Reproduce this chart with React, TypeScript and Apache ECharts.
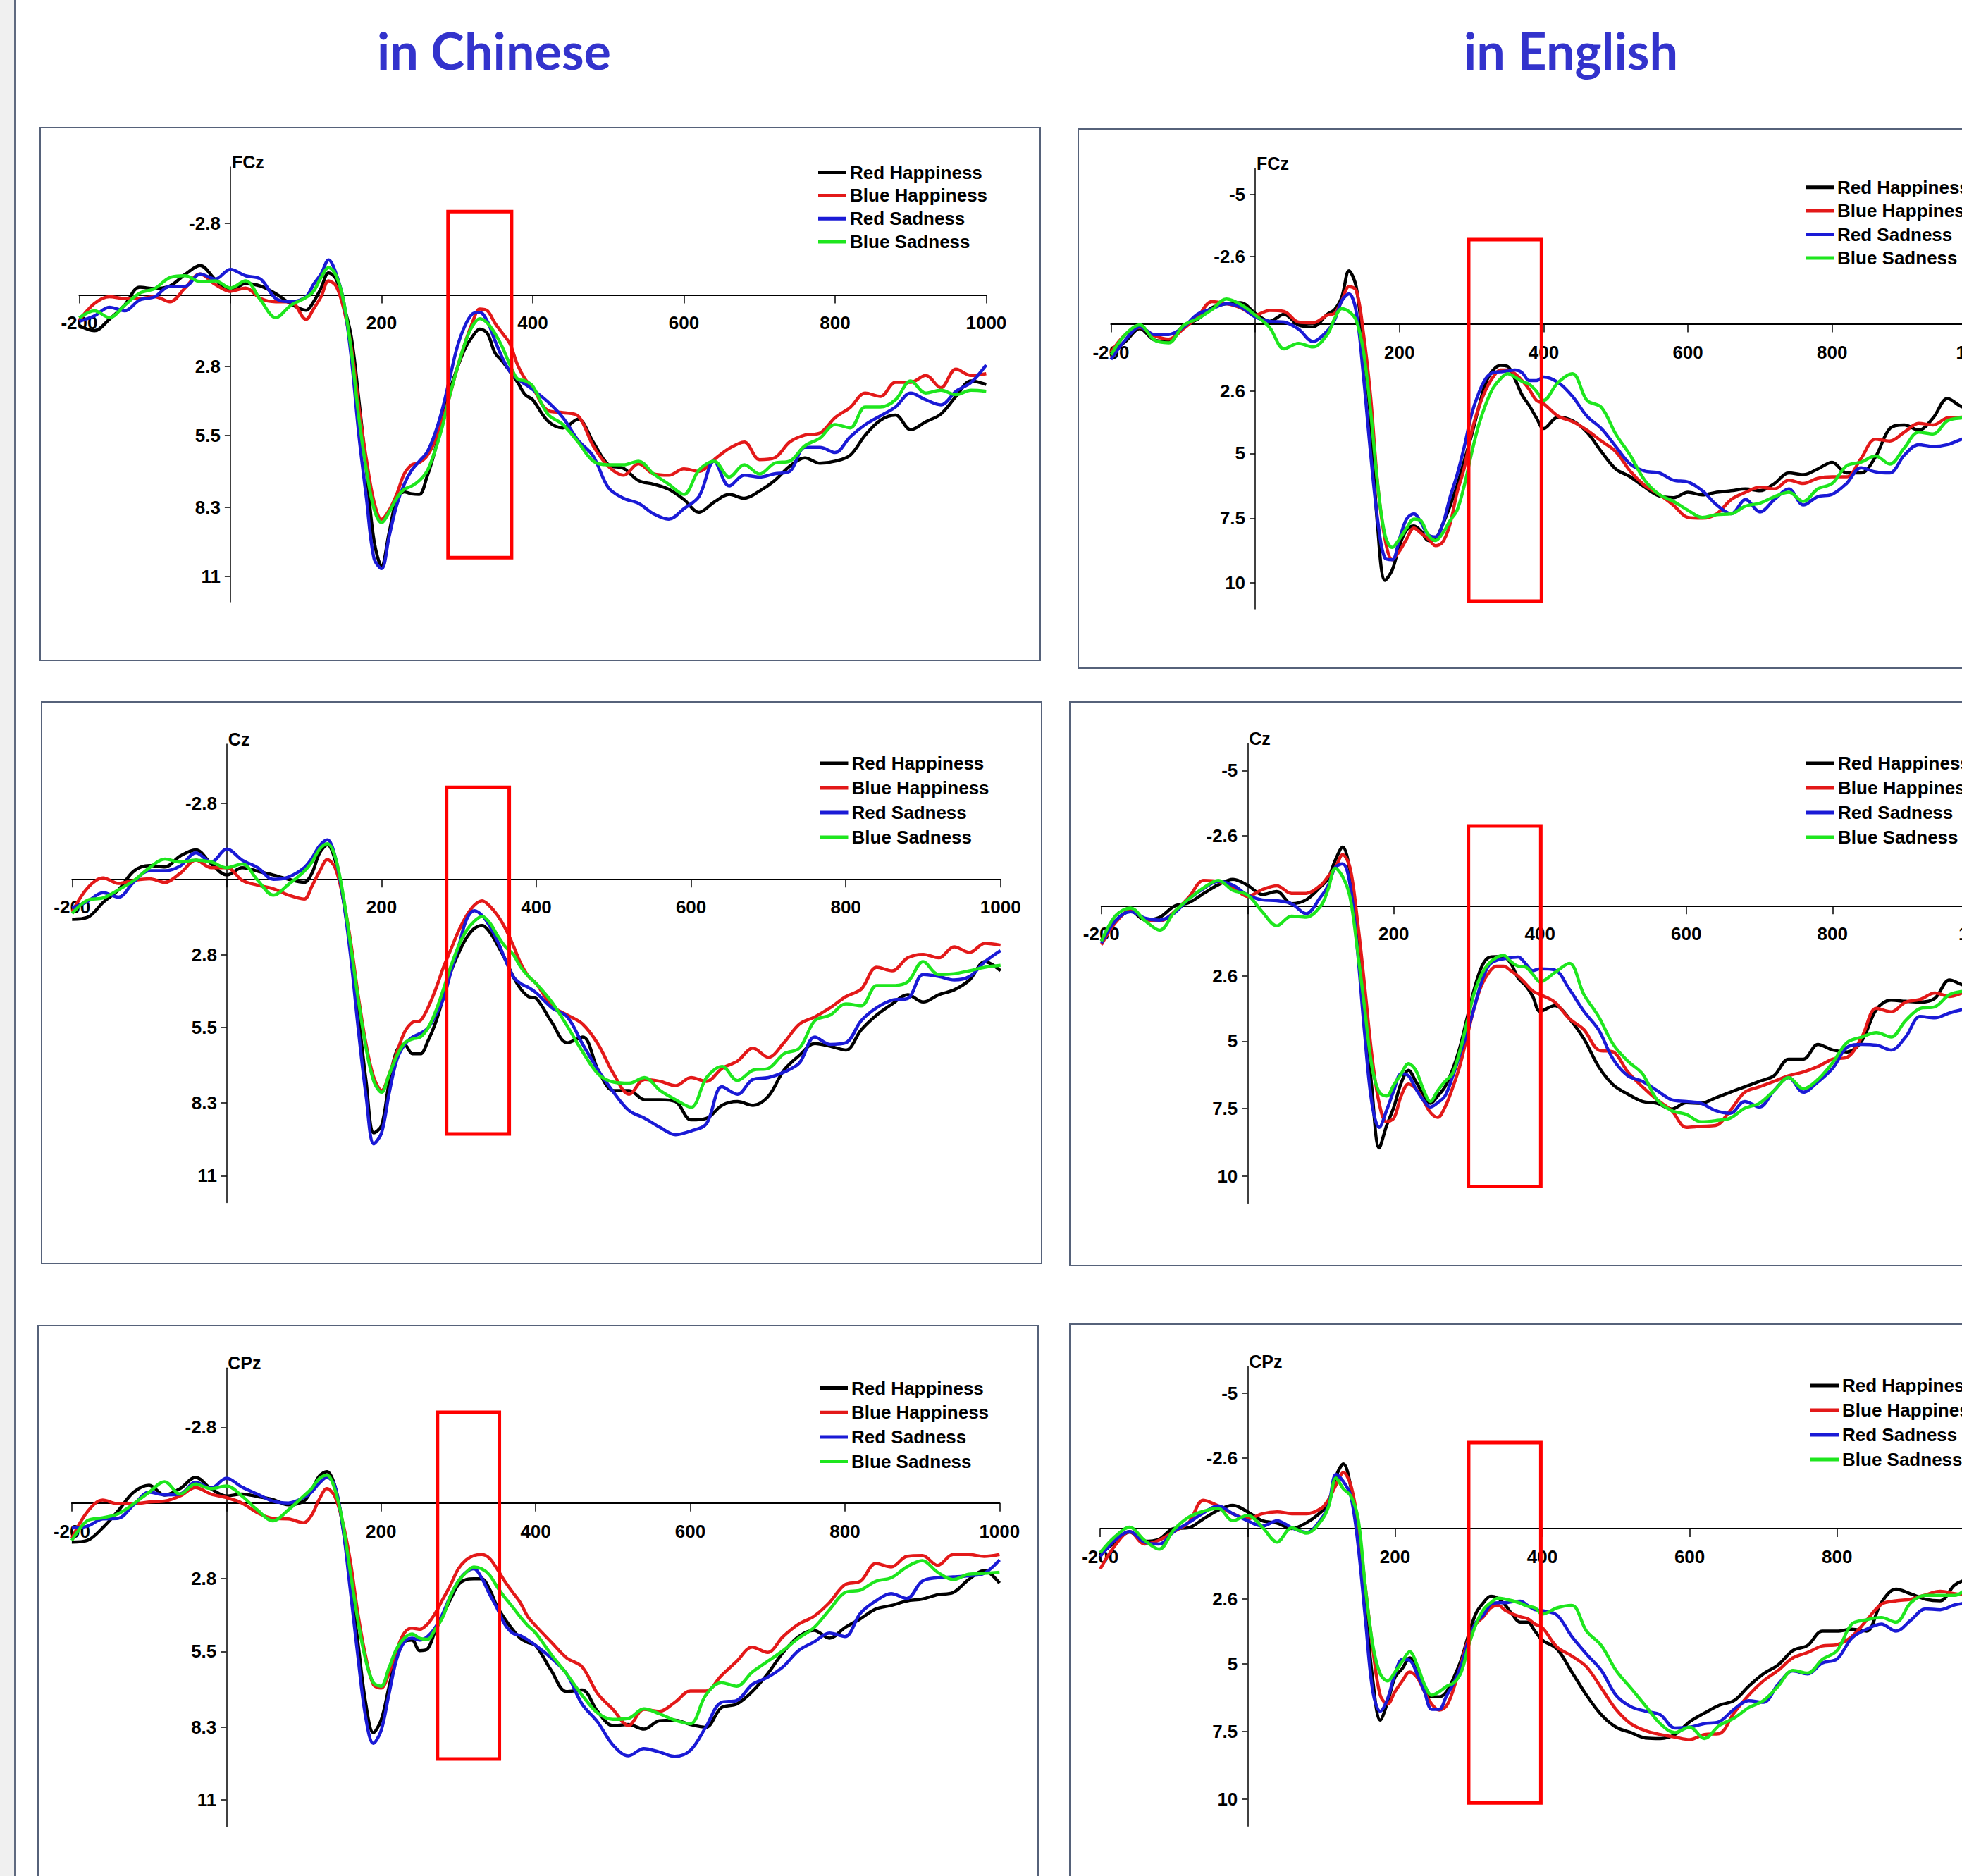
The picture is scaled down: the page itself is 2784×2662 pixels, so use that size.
import React, { useEffect, useRef } from 'react';
import * as echarts from 'echarts';

// ---------- DATA ----------
const TIMES = [
  -200, -180, -160, -140, -120, -100, -80, -60, -40, -20, 0, 20, 40, 60, 80, 100,
  110, 120, 130, 140, 150, 160, 170, 180, 190, 200, 210, 220, 230, 240, 250, 260, 270, 280, 290, 300, 310, 320, 330, 340, 350, 360, 370, 380, 390, 400,
  420, 440, 460, 480, 500, 520, 540, 560, 580, 600, 620, 640, 660, 680, 700, 720, 740, 760, 780, 800, 820, 840, 860, 880, 900, 920, 940, 960, 980, 1000,
];

const SERIES_NAMES = ['Red Happiness', 'Blue Happiness', 'Red Sadness', 'Blue Sadness'];
const SERIES_COLORS = ['#000000', '#e31919', '#1a1ad6', '#1ee61e'];

const PAGE_TITLES = ['in Chinese', 'in English'];
const ELECTRODES = ['FCz', 'FCz', 'Cz', 'Cz', 'CPz', 'CPz'];

const CN_Y_TICKS = [-2.8, 2.8, 5.5, 8.3, 11];
const EN_Y_TICKS = [-5, -2.6, 2.6, 5, 7.5, 10];
const CN_Y_RANGE = [-5, 12];
const EN_Y_RANGE = [-6, 11];
const X_RANGE = [-200, 1000];
const X_STEP = 200;

// highlighted time windows [tStart, tEnd, yTop, yBottom]
const WINDOW_CN_FCZ = [288, 372, -3.26, 10.27];
const WINDOW_EN_FCZ = [296, 397, -3.25, 10.7];
const WINDOW_CN_CZ = [284, 365, -3.4, 9.45];
const WINDOW_EN_CZ = [302, 401, -2.95, 10.37];
const WINDOW_CN_CPZ = [273, 353, -3.36, 9.49];
const WINDOW_EN_CPZ = [300, 398, -3.18, 10.14];

// Chinese FCz
const CN_FCZ_RH = [
  1.2, 1.4, 0.95, 0.4, -0.3, -0.25, -0.35, -0.8, -1.15, -0.6, -0.15, -0.45, -0.35, -0.05, 0.35, 0.6,
  0.27, -0.27, -0.86, -0.62, 0.41, 1.64, 4.1, 6.85, 9.6, 10.6, 9.3, 8.0, 7.7, 7.78, 7.8, 7.12, 6.16, 4.93, 3.77, 2.88, 2.12, 1.64, 1.34, 1.5, 2.26, 2.6, 3.0, 3.42, 3.9, 4.1,
  4.93, 5.2, 4.86, 5.75, 6.64, 6.78, 7.26, 7.4, 7.6, 8.0, 8.5, 8.1, 7.8, 7.95, 7.67, 7.26, 6.7, 6.37, 6.58, 6.5, 6.27, 5.48, 4.9, 4.7, 5.27, 4.96, 4.66, 3.97, 3.36, 3.5,
];
const CN_FCZ_BH = [
  1.0, 0.34, 0.07, 0.14, 0.14, 0.07, 0.27, -0.27, -0.82, -0.41, -0.14, -0.27, 0.14, 0.27, 0.27, 0.96,
  0.55, 0.07, -0.55, -0.34, 0.55, 2.05, 4.38, 6.44, 8.08, 8.77, 8.42, 7.8, 7.0, 6.64, 6.55, 6.3, 5.75, 4.93, 3.97, 2.88, 1.92, 1.1, 0.55, 0.62, 1.1, 1.5, 1.92, 2.74, 3.29, 3.63,
  4.52, 4.6, 4.73, 5.9, 6.7, 7.05, 6.6, 7.0, 7.05, 6.8, 6.9, 6.44, 6.0, 5.75, 6.44, 6.37, 5.75, 5.48, 5.4, 4.8, 4.4, 3.84, 3.97, 3.42, 3.42, 3.15, 3.63, 2.9, 3.15, 3.08,
];
const CN_FCZ_RS = [
  1.03, 0.82, 0.48, 0.62, 0.2, 0.07, -0.34, -0.34, -0.82, -0.62, -1.0, -0.75, -0.62, 0.14, 0.27, 0.07,
  -0.41, -0.82, -1.37, -0.82, 0.27, 2.47, 5.48, 7.95, 10.3, 10.7, 9.45, 8.22, 7.4, 6.85, 6.5, 6.16, 5.48, 4.52, 3.29, 2.05, 1.23, 0.75, 0.68, 1.03, 1.78, 2.47, 3.0, 3.29, 3.49, 3.7,
  4.18, 4.8, 5.68, 6.3, 7.53, 7.95, 8.15, 8.56, 8.77, 8.36, 7.88, 6.5, 7.47, 7.05, 7.12, 6.99, 6.9, 5.96, 5.96, 6.16, 5.55, 5.07, 4.73, 4.38, 3.84, 4.1, 4.3, 3.77, 3.42, 2.74,
];
const CN_FCZ_BS = [
  0.9, 0.62, 0.89, 0.41, -0.07, -0.25, -0.68, -0.75, -0.52, -0.55, -0.27, -0.55, 0.2, 0.89, 0.41, 0.1,
  -0.14, -0.68, -1.07, -0.75, 0.27, 2.19, 4.8, 6.85, 8.36, 8.9, 8.5, 7.95, 7.6, 7.47, 7.26, 6.9, 6.16, 5.2, 3.97, 2.88, 1.92, 1.23, 0.93, 1.1, 1.5, 2.05, 2.74, 3.29, 3.36, 3.56,
  4.66, 5.07, 5.75, 6.5, 6.64, 6.64, 6.5, 7.0, 7.4, 7.8, 6.85, 6.5, 7.12, 6.64, 7.0, 6.58, 6.5, 5.9, 5.6, 5.07, 5.2, 4.38, 4.38, 4.1, 3.36, 3.84, 3.73, 3.9, 3.73, 3.77,
];

// English FCz
const EN_FCZ_RH = [
  1.1, 0.68, 0.18, 0.62, 0.68, 0.07, -0.18, -0.62, -0.78, -0.82, -0.41, -0.1, -0.37, 0.04, 0.11, -0.37,
  -0.55, -1.03, -2.05, -1.44, 0.89, 3.77, 7.9, 9.9, 9.5, 8.56, 7.95, 7.8, 8.0, 8.36, 8.3, 7.74, 7.05, 6.23, 5.27, 4.3, 3.22, 2.26, 1.78, 1.6, 1.64, 2.12, 2.74, 3.15, 3.63, 4.04,
  3.6, 3.74, 4.18, 4.93, 5.6, 5.9, 6.3, 6.64, 6.71, 6.5, 6.6, 6.5, 6.44, 6.37, 6.44, 6.16, 5.75, 5.82, 5.6, 5.34, 5.75, 5.75, 5.14, 4.04, 3.9, 4.1, 3.63, 2.88, 3.2, 3.3,
];
const EN_FCZ_BH = [
  1.1, 0.41, 0.14, 0.45, 0.59, 0.2, -0.27, -0.86, -0.78, -0.62, -0.34, -0.52, -0.48, -0.07, -0.04, -0.34,
  -0.41, -0.89, -1.44, -1.3, 0.34, 2.8, 6.23, 8.3, 9.1, 8.77, 8.3, 7.88, 8.08, 8.3, 8.56, 8.42, 7.74, 6.5, 5.55, 4.18, 3.22, 2.53, 2.05, 1.78, 1.78, 1.92, 2.19, 2.53, 2.95, 3.08,
  3.56, 3.77, 4.1, 4.52, 4.93, 5.68, 6.23, 6.58, 7.0, 7.47, 7.5, 7.33, 6.78, 6.5, 6.3, 6.37, 6.03, 6.16, 5.96, 5.9, 5.9, 5.2, 4.45, 4.52, 4.18, 3.84, 3.9, 3.63, 3.6, 3.5,
];
const EN_FCZ_RS = [
  1.37, 0.62, 0.11, 0.41, 0.41, 0.14, -0.37, -0.58, -0.78, -0.64, -0.27, -0.1, -0.07, 0.2, 0.68, 0.27,
  -0.14, -0.89, -1.16, -0.48, 1.99, 5.0, 7.6, 9.04, 9.1, 8.3, 7.53, 7.33, 7.67, 8.15, 8.22, 7.74, 6.71, 5.82, 4.73, 3.49, 2.67, 2.1, 1.88, 1.85, 1.82, 1.78, 1.88, 2.19, 2.19, 2.05,
  2.26, 2.8, 3.56, 4.04, 4.73, 5.41, 5.68, 5.75, 6.03, 6.1, 6.44, 6.99, 7.33, 6.78, 7.26, 6.78, 6.37, 6.99, 6.67, 6.58, 6.16, 5.55, 5.71, 5.75, 5.07, 4.66, 4.73, 4.66, 4.45, 4.3,
];
const EN_FCZ_BS = [
  1.2, 0.41, 0.04, 0.62, 0.73, 0.07, -0.2, -0.55, -0.96, -0.75, -0.34, 0.14, 0.96, 0.75, 0.89, 0.41,
  -0.2, -0.59, -0.48, -0.14, 1.03, 3.36, 6.23, 8.15, 8.63, 8.3, 7.88, 7.53, 7.6, 8.15, 8.36, 8.08, 7.6, 7.19, 6.23, 5.0, 3.9, 3.08, 2.47, 2.12, 1.92, 2.05, 2.22, 2.33, 2.6, 2.95,
  2.26, 1.92, 2.95, 3.22, 4.25, 5.07, 6.03, 6.58, 6.85, 7.19, 7.47, 7.36, 7.33, 7.03, 6.92, 6.67, 6.5, 6.85, 6.37, 6.16, 5.48, 5.34, 5.1, 5.41, 4.79, 4.18, 4.25, 3.74, 3.63, 3.6,
];

// Chinese Cz
const CN_CZ_RH = [
  1.49, 1.42, 0.87, 0.4, -0.3, -0.5, -0.45, -0.86, -1.08, -0.56, -0.15, -0.42, -0.29, -0.15, 0.01, 0.12,
  -0.22, -0.97, -1.27, -0.7, 0.67, 2.58, 5.04, 7.5, 9.41, 9.14, 7.5, 6.34, 6.16, 6.48, 6.48, 6.0, 5.31, 4.36, 3.4, 2.72, 2.17, 1.83, 1.72, 1.97, 2.45, 2.99, 3.61, 4.08, 4.36, 4.43,
  5.31, 6.07, 5.86, 7.09, 7.84, 7.84, 8.18, 8.18, 8.25, 8.93, 8.87, 8.39, 8.25, 8.39, 8.05, 7.09, 6.54, 6.1, 6.2, 6.34, 5.59, 5.04, 4.63, 4.29, 4.56, 4.29, 4.11, 3.74, 3.06, 3.4,
];
const CN_CZ_BH = [
  1.22, 0.33, -0.04, 0.16, 0.05, -0.01, 0.12, -0.22, -0.7, -0.42, -0.42, 0.05, 0.23, 0.36, 0.6, 0.74,
  0.26, -0.29, -0.72, -0.42, 0.67, 2.31, 4.36, 6.13, 7.36, 7.84, 7.23, 6.41, 5.66, 5.31, 5.25, 4.77, 4.08, 3.27, 2.58, 1.9, 1.35, 0.97, 0.81, 1.01, 1.35, 1.83, 2.45, 3.13, 3.61, 3.88,
  4.7, 5.04, 5.38, 6.13, 7.23, 7.98, 7.43, 7.5, 7.66, 7.36, 7.5, 7.02, 6.75, 6.27, 6.61, 6.07, 5.38, 5.11, 4.77, 4.36, 4.08, 3.27, 3.4, 2.92, 2.79, 2.92, 2.51, 2.72, 2.38, 2.45,
];
const CN_CZ_RS = [
  1.08, 0.83, 0.51, 0.67, 0.1, -0.31, -0.31, -0.49, -0.97, -0.63, -1.11, -0.7, -0.42, 0.01, -0.08, -0.42,
  -0.77, -1.24, -1.45, -0.83, 0.67, 2.86, 5.59, 8.05, 9.82, 9.41, 7.91, 6.68, 6.13, 5.86, 5.72, 5.52, 5.04, 4.43, 3.4, 2.45, 1.49, 1.17, 1.35, 1.76, 2.31, 2.99, 3.61, 3.88, 4.02, 4.22,
  4.77, 5.11, 6.13, 7.09, 7.91, 8.59, 8.87, 9.21, 9.48, 9.34, 9.07, 7.7, 7.98, 7.43, 7.36, 7.16, 6.82, 5.86, 6.13, 6.07, 5.25, 4.77, 4.49, 4.43, 3.54, 3.61, 3.74, 3.61, 3.06, 2.65,
];
const CN_CZ_BS = [
  1.28, 0.78, 0.7, 0.4, 0.05, -0.42, -0.74, -0.63, -0.7, -0.63, -0.42, -0.56, 0.05, 0.6, 0.19, -0.29,
  -0.63, -1.11, -1.31, -0.83, 0.53, 2.45, 4.49, 6.27, 7.5, 7.91, 7.23, 6.54, 6.07, 5.93, 5.86, 5.52, 4.9, 4.08, 3.2, 2.45, 1.9, 1.56, 1.38, 1.63, 2.1, 2.51, 2.79, 3.27, 3.61, 3.88,
  4.56, 5.45, 6.41, 7.23, 7.53, 7.57, 7.36, 7.84, 8.18, 8.46, 7.36, 6.95, 7.47, 7.09, 7.02, 6.48, 6.27, 5.25, 5.04, 4.63, 4.7, 3.95, 3.95, 3.81, 3.06, 3.54, 3.51, 3.4, 3.27, 3.2,
];

// English Cz
const EN_CZ_RH = [
  1.31, 0.56, 0.19, 0.52, 0.42, 0.01, -0.12, -0.46, -0.78, -0.98, -0.76, -0.42, -0.53, -0.08, -0.22, -0.71,
  -1.01, -1.69, -2.17, -1.28, 0.9, 3.62, 6.76, 8.95, 8.13, 7.44, 6.55, 6.08, 6.49, 6.96, 7.3, 7.03, 6.69, 6.08, 5.26, 4.17, 3.08, 2.26, 1.91, 1.88, 1.88, 2.13, 2.67, 2.94, 3.35, 3.9,
  3.69, 4.17, 4.92, 5.94, 6.62, 6.96, 7.23, 7.3, 7.51, 7.28, 7.3, 7.1, 6.89, 6.69, 6.49, 6.28, 5.67, 5.67, 5.12, 5.33, 5.4, 4.99, 3.83, 3.49, 3.53, 3.56, 3.42, 2.74, 2.94, 3.0,
];
const EN_CZ_BH = [
  1.44, 0.6, 0.18, 0.49, 0.56, 0.22, -0.33, -0.94, -0.9, -0.67, -0.35, -0.6, -0.74, -0.46, -0.46, -0.76,
  -1.08, -1.42, -1.89, -1.42, 0.49, 2.94, 5.53, 7.3, 7.98, 7.85, 7.03, 6.59, 6.76, 7.17, 7.64, 7.82, 7.44, 6.76, 5.94, 4.85, 3.76, 2.94, 2.47, 2.23, 2.23, 2.4, 2.6, 2.87, 3.15, 3.28,
  3.56, 4.17, 4.58, 5.33, 5.4, 6.14, 6.69, 7.17, 7.57, 8.19, 8.15, 8.12, 7.57, 6.89, 6.69, 6.49, 6.28, 6.14, 5.94, 5.67, 5.6, 4.85, 3.79, 3.92, 3.56, 3.46, 3.22, 3.35, 3.2, 3.1,
];
const EN_CZ_RS = [
  1.38, 0.53, 0.22, 0.46, 0.53, 0.26, -0.26, -0.64, -0.91, -0.76, -0.4, -0.22, -0.19, -0.08, 0.29, -0.33,
  -0.74, -1.42, -1.55, -0.8, 1.58, 4.71, 7.3, 8.19, 7.57, 6.83, 6.21, 6.28, 6.76, 7.17, 7.44, 7.28, 7.03, 6.35, 5.53, 4.71, 3.76, 2.81, 2.19, 2.02, 1.96, 1.92, 1.89, 2.13, 2.4, 2.33,
  2.37, 3.08, 3.9, 4.58, 5.67, 6.28, 6.49, 6.83, 7.17, 7.23, 7.3, 7.57, 7.67, 7.23, 7.44, 6.83, 6.35, 6.89, 6.51, 6.01, 5.23, 5.12, 5.15, 5.33, 4.85, 4.09, 4.14, 3.96, 3.83, 3.8,
];
const EN_CZ_BS = [
  1.31, 0.35, 0.08, 0.56, 0.9, 0.22, -0.26, -0.67, -0.94, -0.57, -0.4, 0.22, 0.74, 0.38, 0.42, 0.01,
  -0.6, -1.39, -1.08, -0.33, 1.58, 3.76, 5.94, 6.89, 7.03, 6.62, 6.21, 5.83, 6.08, 6.76, 7.23, 6.83, 6.49, 6.21, 5.4, 4.31, 3.22, 2.53, 2.13, 1.92, 1.83, 2.06, 2.23, 2.26, 2.53, 2.81,
  2.47, 2.13, 3.28, 4.09, 5.12, 5.74, 6.21, 7.17, 7.57, 7.71, 7.98, 7.94, 7.85, 7.48, 7.3, 6.83, 6.35, 6.76, 6.42, 5.8, 5.05, 4.85, 4.69, 4.85, 4.24, 3.79, 3.73, 3.28, 3.15, 3.1,
];

// Chinese CPz
const CN_CPZ_RH = [
  1.45, 1.39, 0.92, 0.29, -0.4, -0.66, -0.29, -0.53, -0.95, -0.53, -0.26, -0.33, -0.24, -0.13, 0.07, -0.07,
  -0.46, -0.99, -1.16, -0.66, 0.79, 2.9, 5.15, 7.39, 8.51, 8.05, 6.86, 5.67, 5.15, 5.08, 5.47, 5.41, 4.75, 4.16, 3.56, 3.03, 2.84, 2.81, 2.81, 3.17, 3.83, 4.29, 4.68, 5.01, 5.17, 5.28,
  6.2, 6.99, 6.93, 7.72, 8.25, 8.21, 8.38, 8.07, 8.05, 8.21, 8.31, 7.59, 7.45, 6.99, 6.33, 5.54, 4.95, 4.72, 5.01, 4.62, 4.29, 3.93, 3.8, 3.63, 3.56, 3.4, 3.32, 2.84, 2.51, 2.97,
];
const CN_CPZ_BH = [
  1.32, 0.33, -0.11, 0.03, 0.03, -0.04, -0.07, -0.26, -0.57, -0.33, -0.2, 0, 0.36, 0.57, 0.59, 0.73,
  0.46, -0.13, -0.53, -0.26, 0.66, 2.11, 4.09, 5.67, 6.73, 6.86, 6.33, 5.47, 4.82, 4.64, 4.68, 4.49, 4.09, 3.56, 3.03, 2.44, 2.11, 1.95, 1.91, 2.04, 2.44, 2.9, 3.3, 3.69, 4.22, 4.55,
  5.15, 5.74, 6.07, 7.06, 7.65, 8.25, 7.65, 7.72, 7.39, 6.97, 6.97, 6.4, 5.87, 5.34, 5.54, 4.95, 4.49, 4.2, 3.69, 3.03, 2.9, 2.24, 2.37, 1.98, 1.95, 2.31, 1.91, 1.91, 1.98, 1.91,
];
const CN_CPZ_RS = [
  0.92, 0.86, 0.59, 0.57, 0.07, -0.4, -0.3, -0.33, -0.77, -0.55, -0.92, -0.59, -0.33, -0.07, 0, -0.2,
  -0.4, -0.73, -0.95, -0.66, 0.79, 3.17, 5.67, 7.92, 8.91, 8.44, 7.12, 5.8, 5.15, 5.01, 5.08, 4.95, 4.62, 4.09, 3.43, 2.9, 2.57, 2.44, 2.77, 3.36, 3.89, 4.49, 4.82, 4.91, 5.08, 5.28,
  5.74, 6.33, 7.45, 8.11, 8.97, 9.37, 9.1, 9.23, 9.39, 9.17, 8.31, 7.39, 7.32, 6.73, 6.46, 6.07, 5.47, 5.15, 4.82, 4.95, 4.09, 3.63, 3.36, 3.54, 2.9, 2.77, 2.74, 2.7, 2.61, 2.11,
];
const CN_CPZ_BS = [
  1.39, 0.66, 0.55, 0.4, 0.03, -0.4, -0.79, -0.33, -0.7, -0.53, -0.63, -0.26, 0.26, 0.66, 0.26, -0.26,
  -0.53, -0.9, -1.03, -0.53, 0.66, 2.51, 4.35, 5.8, 6.66, 6.79, 6.13, 5.41, 5.01, 4.85, 5.01, 5.05, 4.68, 4.22, 3.43, 2.9, 2.57, 2.37, 2.44, 2.66, 3.1, 3.5, 3.85, 4.22, 4.55, 4.82,
  5.61, 6.33, 7.12, 7.78, 8.02, 7.98, 7.63, 7.81, 8.05, 8.18, 7.12, 6.66, 6.79, 6.27, 5.87, 5.47, 5.01, 4.62, 3.96, 3.32, 3.23, 2.9, 2.77, 2.37, 2.14, 2.57, 2.84, 2.64, 2.61, 2.57,
];

// English CPz
const EN_CPZ_RH = [
  0.96, 0.5, 0.13, 0.47, 0.39, 0, -0.03, -0.36, -0.68, -0.86, -0.62, -0.29, -0.2, 0, -0.22, -0.62,
  -0.95, -1.93, -2.39, -1.54, 0.37, 2.87, 5.63, 7.08, 6.42, 5.5, 5.17, 4.78, 5.24, 5.89, 6.22, 6.22, 6.03, 5.5, 4.84, 3.92, 3.13, 2.74, 2.5, 2.58, 2.84, 3.2, 3.46, 3.46, 3.79, 4.12,
  4.45, 5.3, 6.16, 6.88, 7.34, 7.54, 7.74, 7.76, 7.61, 7.14, 6.82, 6.53, 6.36, 5.83, 5.37, 5.04, 4.51, 4.32, 3.79, 3.79, 3.72, 3.79, 2.74, 2.24, 2.41, 2.61, 2.67, 2.08, 1.9, 1.9,
];
const EN_CPZ_BH = [
  1.49, 0.63, 0.11, 0.57, 0.43, 0.11, -0.22, -1.05, -0.84, -0.55, -0.36, -0.55, -0.62, -0.55, -0.55, -0.75,
  -1.08, -1.61, -2.07, -1.61, -0.16, 2.21, 4.45, 6.16, 6.49, 6.03, 5.63, 5.3, 5.5, 6.03, 6.49, 6.71, 6.55, 5.89, 4.97, 4.05, 3.53, 3.26, 2.93, 2.84, 3.03, 3.16, 3.26, 3.33, 3.53, 3.66,
  4.38, 4.71, 5.11, 5.89, 6.68, 7.21, 7.47, 7.61, 7.71, 7.8, 7.61, 7.58, 6.82, 6.16, 5.63, 5.24, 4.78, 4.58, 4.34, 4.29, 3.99, 3.39, 2.8, 2.67, 2.61, 2.45, 2.32, 2.41, 2.47, 2.5,
];
const EN_CPZ_RS = [
  1.03, 0.43, 0.11, 0.5, 0.57, 0.11, -0.22, -0.58, -0.84, -0.55, -0.29, -0.09, -0.29, -0.03, 0.14, -0.36,
  -0.88, -2.0, -1.74, -1.21, 0.63, 3.39, 6.03, 6.75, 6.29, 5.37, 4.84, 4.87, 5.37, 6.03, 6.68, 6.68, 6.18, 5.7, 5.04, 4.12, 3.46, 3.2, 2.8, 2.74, 2.74, 2.7, 2.68, 2.84, 3.0, 3.03,
  3.2, 3.99, 4.64, 5.24, 6.16, 6.58, 6.75, 6.88, 7.37, 7.34, 7.21, 7.14, 6.68, 6.36, 6.42, 5.76, 5.26, 5.37, 4.97, 4.82, 4.05, 3.72, 3.53, 3.79, 3.39, 2.97, 3.0, 2.82, 2.74, 2.7,
];
const EN_CPZ_BS = [
  0.89, 0.3, -0.05, 0.43, 0.76, 0.04, -0.42, -0.64, -0.75, -0.29, -0.49, -0.05, 0.5, -0.03, 0.17, -0.29,
  -0.82, -1.87, -1.47, -1.21, -0.36, 2.21, 4.32, 5.37, 5.63, 5.3, 4.91, 4.55, 5.04, 5.76, 6.16, 6.03, 5.83, 5.7, 5.3, 4.32, 3.53, 3.0, 2.74, 2.57, 2.61, 2.67, 2.76, 2.87, 2.93, 3.16,
  2.93, 2.84, 3.79, 4.32, 5.24, 5.89, 6.55, 7.21, 7.54, 7.34, 7.76, 7.28, 7.01, 6.62, 6.36, 5.83, 5.24, 5.34, 4.84, 4.51, 3.53, 3.37, 3.29, 3.46, 2.74, 2.47, 2.47, 2.47, 2.21, 2.2,
];

const PANEL_VALUES = [
  [CN_FCZ_RH, CN_FCZ_BH, CN_FCZ_RS, CN_FCZ_BS],
  [EN_FCZ_RH, EN_FCZ_BH, EN_FCZ_RS, EN_FCZ_BS],
  [CN_CZ_RH, CN_CZ_BH, CN_CZ_RS, CN_CZ_BS],
  [EN_CZ_RH, EN_CZ_BH, EN_CZ_RS, EN_CZ_BS],
  [CN_CPZ_RH, CN_CPZ_BH, CN_CPZ_RS, CN_CPZ_BS],
  [EN_CPZ_RH, EN_CPZ_BH, EN_CPZ_RS, EN_CPZ_BS],
];
const PANEL_WINDOWS = [WINDOW_CN_FCZ, WINDOW_EN_FCZ, WINDOW_CN_CZ, WINDOW_EN_CZ, WINDOW_CN_CPZ, WINDOW_EN_CPZ];
const PANEL_TICKS = [CN_Y_TICKS, EN_Y_TICKS, CN_Y_TICKS, EN_Y_TICKS, CN_Y_TICKS, EN_Y_TICKS];
const PANEL_RANGES = [CN_Y_RANGE, EN_Y_RANGE, CN_Y_RANGE, EN_Y_RANGE, CN_Y_RANGE, EN_Y_RANGE];

// ---------- LAYOUT (pixels) ----------
const LAYOUT = [
  { grid: { left: 112.4, top: 237, width: 1287, height: 617 }, frame: [57, 181, 1419, 756], legend: { left: 1161, top: 231.6, gap: 6.8 } },
  { grid: { left: 1576.4, top: 239, width: 1228, height: 625 }, frame: [1530, 183, 1300, 765], legend: { left: 2562, top: 252.7, gap: 7.4 } },
  { grid: { left: 102.3, top: 1056, width: 1317.4, height: 650.6 }, frame: [59, 996, 1419, 797], legend: { left: 1163.5, top: 1070, gap: 9 } },
  { grid: { left: 1562.8, top: 1055, width: 1245, height: 652.6 }, frame: [1518, 996, 1300, 800], legend: { left: 2563, top: 1070, gap: 9 } },
  { grid: { left: 101.9, top: 1941.2, width: 1316.4, height: 651 }, frame: [54, 1881, 1419, 900], legend: { left: 1163, top: 1956.5, gap: 8.7 } },
  { grid: { left: 1561.2, top: 1938.7, width: 1254.6, height: 652.6 }, frame: [1518, 1879, 1300, 900], legend: { left: 2569, top: 1953, gap: 9 } },
];
const TITLE_POS = [[701, 71], [2229, 71]];

const FONT = 'Liberation Sans, Arial, sans-serif';

function buildOption() {
  const grid = LAYOUT.map((l) => ({ ...l.grid, containLabel: false, outerBoundsMode: 'none' }));
  // axes cross at (0 ms, 0 µV): shift them inside the grid with an offset
  const xAxis = LAYOUT.map((l, i) => {
    const [ymin, ymax] = PANEL_RANGES[i];
    return {
      type: 'value',
      gridIndex: i,
      position: 'bottom',
      offset: -(ymax / (ymax - ymin)) * l.grid.height,
      min: X_RANGE[0],
      max: X_RANGE[1],
      interval: X_STEP,
      axisLine: { show: true, onZero: false, lineStyle: { color: '#000', width: 2 } },
      axisTick: { show: true, length: 12, lineStyle: { color: '#000', width: 1.5 } },
      axisLabel: {
        margin: 27,
        fontSize: 26,
        fontWeight: 'bold',
        fontFamily: FONT,
        color: '#000',
        formatter: (v: number) => (v === 0 ? '' : String(v)),
      },
      splitLine: { show: false },
    };
  });
  const yAxis = LAYOUT.map((l, i) => ({
    type: 'value',
    gridIndex: i,
    position: 'left',
    offset: -((0 - X_RANGE[0]) / (X_RANGE[1] - X_RANGE[0])) * l.grid.width,
    inverse: true,
    min: PANEL_RANGES[i][0],
    max: PANEL_RANGES[i][1],
    axisLine: { show: true, onZero: false, lineStyle: { color: '#000', width: 1.5 } },
    axisTick: { show: true, length: 8, customValues: PANEL_TICKS[i], lineStyle: { color: '#000', width: 1.5 } },
    axisLabel: {
      customValues: PANEL_TICKS[i],
      margin: 14,
      fontSize: 26,
      fontWeight: 'bold',
      fontFamily: FONT,
      color: '#000',
      formatter: (v: number) => String(v),
    },
    splitLine: { show: false },
  }));

  const series: any[] = [];
  PANEL_VALUES.forEach((vals, i) => {
    vals.forEach((arr, s) => {
      const w = PANEL_WINDOWS[i];
      series.push({
        type: 'line',
        name: SERIES_NAMES[s],
        xAxisIndex: i,
        yAxisIndex: i,
        data: TIMES.map((t, k) => [t, arr[k]]),
        showSymbol: false,
        symbol: 'none',
        smooth: 0.35,
        silent: true,
        lineStyle: { width: 4.5, color: SERIES_COLORS[s] },
        itemStyle: { color: SERIES_COLORS[s] },
        z: 2 + s,
        markArea:
          s === 3
            ? {
                silent: true,
                z: 10,
                label: { show: false },
                itemStyle: { color: 'rgba(0,0,0,0)', borderColor: '#ff0000', borderWidth: 5 },
                data: [[{ xAxis: w[0], yAxis: w[2] }, { xAxis: w[1], yAxis: w[3] }]],
              }
            : undefined,
      });
    });
  });

  const legend = LAYOUT.map((l) => ({
    orient: 'vertical',
    left: l.legend.left,
    top: l.legend.top,
    itemGap: l.legend.gap,
    itemWidth: 40,
    itemHeight: 5,
    icon: 'rect',
    padding: 0,
    selectedMode: false,
    textStyle: { fontSize: 26, fontWeight: 'bold', color: '#000', fontFamily: FONT },
    data: SERIES_NAMES,
  }));

  const graphic: any[] = [
    { type: 'rect', shape: { x: 0, y: 0, width: 20, height: 2662 }, style: { fill: '#f0f0f0' }, silent: true },
    { type: 'line', shape: { x1: 21, y1: 0, x2: 21, y2: 2662 }, style: { stroke: '#5f6a80', lineWidth: 2 }, silent: true },
  ];
  LAYOUT.forEach((l, i) => {
    const [fx, fy, fw, fh] = l.frame;
    graphic.push({
      type: 'rect',
      shape: { x: fx, y: fy, width: fw, height: fh },
      style: { fill: 'none', stroke: '#56627a', lineWidth: 2 },
      silent: true,
    });
    const axisX = l.grid.left + ((0 - X_RANGE[0]) / (X_RANGE[1] - X_RANGE[0])) * l.grid.width;
    graphic.push({
      type: 'text',
      x: axisX + 2,
      y: l.grid.top - 7,
      style: {
        text: ELECTRODES[i],
        fill: '#000',
        font: `bold 25px ${FONT}`,
        textAlign: 'left',
        textVerticalAlign: 'middle',
      },
      silent: true,
    });
  });
  PAGE_TITLES.forEach((t, i) => {
    graphic.push({
      type: 'text',
      x: TITLE_POS[i][0],
      y: TITLE_POS[i][1],
      style: {
        text: t,
        fill: '#3333cc',
        font: 'bold 72px Lato, "Open Sans", sans-serif',
        textAlign: 'center',
        textVerticalAlign: 'middle',
      },
      silent: true,
    });
  });

  return {
    animation: false,
    backgroundColor: '#ffffff',
    grid,
    xAxis,
    yAxis,
    legend,
    series,
    graphic,
  };
}

export default function App() {
  const ref = useRef<HTMLDivElement>(null);
  useEffect(() => {
    if (!ref.current) return;
    const chart = echarts.init(ref.current, undefined, { renderer: 'svg' });
    chart.setOption(buildOption() as any);
    return () => chart.dispose();
  }, []);
  return (
    <div
      ref={ref}
      style={{ position: 'absolute', left: 0, top: 0, width: 2784, height: 2662, background: '#fff' }}
    />
  );
}
